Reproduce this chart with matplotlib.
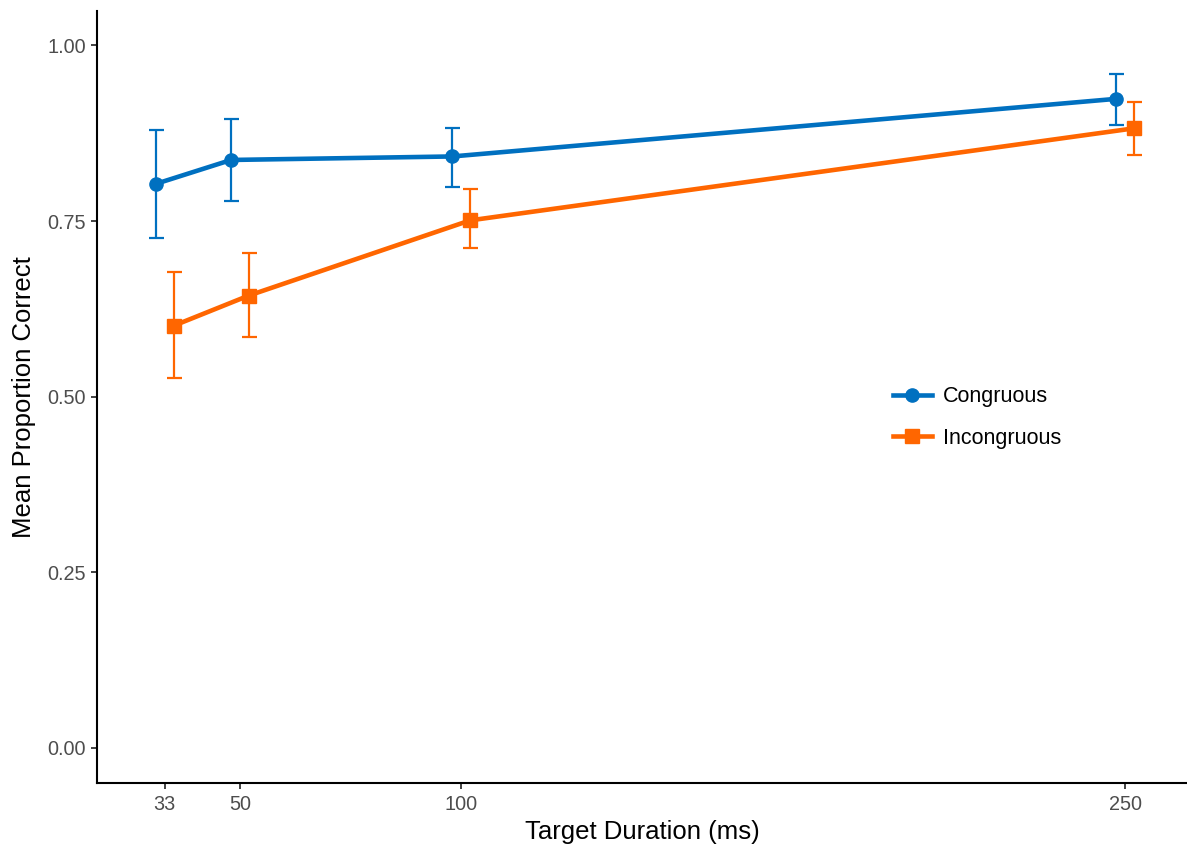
import matplotlib.pyplot as plt

plt.rcParams['font.family'] = ['Liberation Sans', 'DejaVu Sans']

durations = [33, 50, 100, 250]
tick_labels = ['33', '50', '100', '250']

congruous_mean = [0.803, 0.837, 0.842, 0.924]
congruous_low = [0.726, 0.778, 0.799, 0.887]
congruous_high = [0.879, 0.896, 0.883, 0.960]

incongruous_mean = [0.601, 0.644, 0.751, 0.882]
incongruous_low = [0.526, 0.585, 0.711, 0.844]
incongruous_high = [0.678, 0.704, 0.795, 0.919]

blue = '#0070C0'
orange = '#FF6600'
dodge = 2.0

fig = plt.figure(figsize=(11.87, 8.48), dpi=100)
ax = fig.add_axes([0.0821, 0.077, 0.9179, 0.910])

series = [
    ('Congruous', congruous_mean, congruous_low, congruous_high, blue, 'o', 9.5, -dodge),
    ('Incongruous', incongruous_mean, incongruous_low, incongruous_high, orange, 's', 10, dodge),
]

for name, mean, low, high, col, mk, ms, off in series:
    xs = [d + off for d in durations]
    err = [[m - l for m, l in zip(mean, low)], [h - m for m, h in zip(mean, high)]]
    ax.errorbar(xs, mean, yerr=err, fmt='none', ecolor=col, elinewidth=1.6,
                capsize=5.4, capthick=1.6, zorder=2)
    ax.plot(xs, mean, color=col, linewidth=3.3, marker=mk, markersize=ms,
            label=name, zorder=3)

ax.set_xlim(17.8, 264)
ax.set_ylim(-0.0494, 1.049)
ax.set_xticks(durations)
ax.set_xticklabels(tick_labels)
ax.set_yticks([0, 0.25, 0.5, 0.75, 1.0])
ax.set_yticklabels(['0.00', '0.25', '0.50', '0.75', '1.00'])

for s in ['top', 'right']:
    ax.spines[s].set_visible(False)
for s in ['left', 'bottom']:
    ax.spines[s].set_linewidth(1.5)
ax.tick_params(axis='both', length=4.5, width=1.3, color='#333333',
               labelsize=14.3, labelcolor='#4D4D4D', pad=4)

ax.set_xlabel('Target Duration (ms)', fontsize=18.5, labelpad=5)
ax.set_ylabel('Mean Proportion Correct', fontsize=18.5, labelpad=8)

ax.legend(loc='center left', bbox_to_anchor=(0.712, 0.4735), frameon=False,
          fontsize=15.5, handlelength=1.85, handletextpad=0.47, labelspacing=0.95)

fig.savefig('out.png', dpi=100)
